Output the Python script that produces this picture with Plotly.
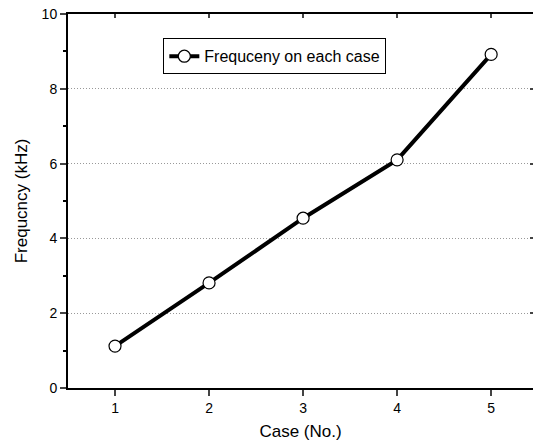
import plotly.graph_objects as go

cases = [1, 2, 3, 4, 5]
freq = [1.12, 2.81, 4.54, 6.10, 8.92]
series_name = "Frequceny on each case"
x_title = "Case (No.)"
y_title = "Frequcncy (kHz)"
x_ticks = [1, 2, 3, 4, 5]
y_ticks = [0, 2, 4, 6, 8, 10]

font = "Liberation Sans, Arial, sans-serif"
xr = [0.5, 5.445]
yr = [0, 10]

fig = go.Figure()
fig.add_trace(go.Scatter(
    x=cases, y=freq, name=series_name, mode="lines+markers",
    line=dict(color="black", width=4),
    marker=dict(symbol="circle", size=12, color="white",
                line=dict(color="black", width=1.2)),
))
# invisible trace for mirror axes
fig.add_trace(go.Scatter(x=[cases[0]], y=[freq[0]], xaxis="x2", yaxis="y2",
                         mode="markers", marker=dict(opacity=0),
                         showlegend=False, hoverinfo="skip"))

fig.update_layout(
    width=533, height=445,
    margin=dict(l=68, r=0, t=14, b=57),
    paper_bgcolor="white", plot_bgcolor="white",
    font=dict(family=font, color="black"),
    showlegend=True,
    legend=dict(x=0.205, y=0.935, xanchor="left", yanchor="top",
                bordercolor="black", borderwidth=1, bgcolor="white",
                font=dict(size=16, family=font),
                tracegroupgap=0, itemwidth=30,
                ),
    xaxis=dict(range=xr, tickvals=x_ticks, ticks="outside", ticklen=6,
               tickwidth=1.5, showline=True, linewidth=2, linecolor="black",
               showgrid=False, zeroline=False,
               tickfont=dict(size=14),
               title=dict(text=x_title, font=dict(size=17), standoff=10)),
    yaxis=dict(range=yr, tickvals=y_ticks, ticks="outside", ticklen=6,
               tickwidth=1.5, showline=True, linewidth=2, linecolor="black",
               showgrid=True, gridcolor="#999999", griddash="1px,2px", gridwidth=1,
               zeroline=False,
               minor=dict(tickvals=[1, 3, 5, 7, 9], ticks="outside", ticklen=3,
                          tickcolor="black", tickwidth=1.5, showgrid=False),
               tickfont=dict(size=14),
               title=dict(text=y_title, font=dict(size=17), standoff=10)),
    xaxis2=dict(range=xr, overlaying="x", side="top", tickvals=x_ticks,
                ticks="inside", ticklen=4, tickwidth=1.5, showline=True,
                linewidth=2, linecolor="black", showticklabels=False,
                showgrid=False, zeroline=False),
    yaxis2=dict(range=yr, overlaying="y", side="right", tickvals=y_ticks,
                ticks="inside", ticklen=3, tickwidth=1.5, showline=True,
                linewidth=2, linecolor="black", showticklabels=False,
                showgrid=False, zeroline=False),
)

fig.write_html("out.html")
